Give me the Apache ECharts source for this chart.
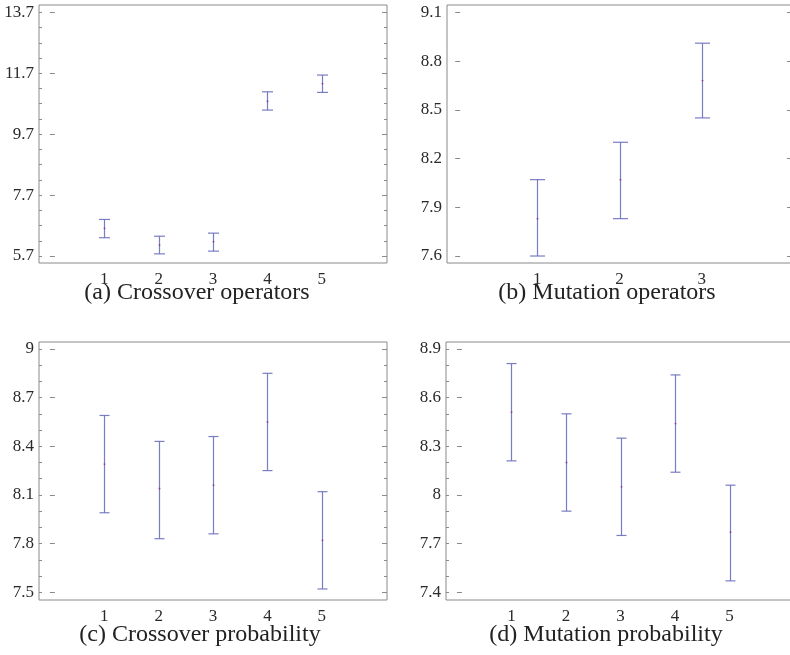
<!DOCTYPE html>
<html>
<head>
<meta charset="utf-8">
<title>Parameter sensitivity</title>
<script src="https://cdn.jsdelivr.net/npm/echarts@6/dist/echarts.min.js"></script>
<style>
  html, body { margin: 0; padding: 0; background: #fff; }
  #chart { width: 790px; height: 655px; }
</style>
</head>
<body>
<div id="chart"></div>
<script>
// (a) Crossover operators
const catsA = [1, 2, 3, 4, 5];
const meanA = [6.61, 6.06, 6.17, 10.78, 11.36];
const lowA  = [6.30, 5.77, 5.86, 10.49, 11.07];
const highA = [6.90, 6.35, 6.45, 11.09, 11.64];
const yTicksA = [5.7, 7.7, 9.7, 11.7, 13.7];

// (b) Mutation operators
const catsB = [1, 2, 3];
const meanB = [7.83, 8.07, 8.68];
const lowB  = [7.60, 7.83, 8.45];
const highB = [8.07, 8.30, 8.91];
const yTicksB = [7.6, 7.9, 8.2, 8.5, 8.8, 9.1];

// (c) Crossover probability
const catsC = [1, 2, 3, 4, 5];
const meanC = [8.29, 8.14, 8.16, 8.55, 7.82];
const lowC  = [7.99, 7.83, 7.86, 8.25, 7.52];
const highC = [8.59, 8.43, 8.46, 8.85, 8.12];
const yTicksC = [7.5, 7.8, 8.1, 8.4, 8.7, 9];

// (d) Mutation probability
const catsD = [1, 2, 3, 4, 5];
const meanD = [8.51, 8.20, 8.05, 8.44, 7.77];
const lowD  = [8.21, 7.90, 7.75, 8.14, 7.47];
const highD = [8.81, 8.50, 8.35, 8.74, 8.06];
const yTicksD = [7.4, 7.7, 8, 8.3, 8.6, 8.9];

const captions = ['(a) Crossover operators', '(b) Mutation operators',
                  '(c) Crossover probability', '(d) Mutation probability'];

const FONT = '"Liberation Serif", "Times New Roman", serif';
const BAR = '#6a6fbd';
const DOT = '#8a3f86';
const FRAME = '#8a8a8a';

// Minor tick positions between (and including) the major ticks
function minorTicks(first, last, step) {
  const out = [];
  const n = Math.round((last - first) / step);
  for (let i = 0; i <= n; i++) out.push(+(first + i * step).toFixed(4));
  return out;
}

const panels = [
  { cats: catsA, mean: meanA, low: lowA, high: highA, ticks: yTicksA,
    minor: minorTicks(5.7, 13.7, 0.5), ymin: 5.47, ymax: 13.94, xmin: -0.2, xmax: 6.2,
    grid: { left: 39, top: 5, width: 348, height: 258 }, cap: 11, caption: [197, 293] },
  { cats: catsB, mean: meanB, low: lowB, high: highB, ticks: yTicksB,
    minor: null, ymin: 7.557, ymax: 9.145, xmin: -0.1, xmax: 4.1,
    grid: { left: 447, top: 5, width: 345, height: 258 }, cap: 15, caption: [607, 293] },
  { cats: catsC, mean: meanC, low: lowC, high: highC, ticks: yTicksC,
    minor: minorTicks(7.5, 9.0, 0.1), ymin: 7.452, ymax: 9.043, xmin: -0.2, xmax: 6.2,
    grid: { left: 39, top: 342, width: 348, height: 258 }, cap: 10, caption: [200, 635] },
  { cats: catsD, mean: meanD, low: lowD, high: highD, ticks: yTicksD,
    minor: minorTicks(7.4, 8.9, 0.1), ymin: 7.352, ymax: 8.943, xmin: -0.2, xmax: 6.2,
    grid: { left: 446, top: 342, width: 349, height: 258 }, cap: 10, caption: [606, 635] }
];

function errorBarRenderer(capWidth) {
  return function (params, api) {
    const x = api.value(0);
    const pLo = api.coord([x, api.value(1)]);
    const pHi = api.coord([x, api.value(2)]);
    const pMid = api.coord([x, api.value(3)]);
    const h = capWidth / 2;
    const cx = Math.round(pMid[0]) + 0.5;
    const style = { stroke: BAR, lineWidth: 1.2, opacity: 0.9 };
    return {
      type: 'group',
      children: [
        { type: 'line', shape: { x1: cx, y1: pHi[1], x2: cx, y2: pLo[1] }, style },
        { type: 'line', shape: { x1: cx - h, y1: pHi[1], x2: cx + h, y2: pHi[1] }, style },
        { type: 'line', shape: { x1: cx - h, y1: pLo[1], x2: cx + h, y2: pLo[1] }, style },
        { type: 'circle', shape: { cx: cx, cy: pMid[1], r: 0.9 }, style: { fill: DOT } }
      ]
    };
  };
}

const grids = [], xAxes = [], yAxes = [], series = [], graphics = [];

panels.forEach((p, gi) => {
  grids.push(Object.assign({ show: true, borderColor: FRAME, borderWidth: 1,
                             backgroundColor: 'transparent',
                             containLabel: false, outerBoundsMode: 'none' }, p.grid));

  xAxes.push({
    type: 'value', gridIndex: gi, min: p.xmin, max: p.xmax,
    axisLine: { show: false }, axisTick: { show: false }, splitLine: { show: false },
    axisLabel: {
      customValues: p.cats, margin: 8, fontFamily: FONT, fontSize: 17, color: '#2a2a2a',
      formatter: v => String(v)
    }
  });

  const yBase = { type: 'value', gridIndex: gi, min: p.ymin, max: p.ymax,
                  axisLine: { show: false }, splitLine: { show: false } };

  // left axis: labels + major ticks
  const mainIndex = yAxes.length;
  yAxes.push(Object.assign({}, yBase, {
    position: 'left',
    axisTick: { show: true, inside: true, length: 5, customValues: p.ticks,
                lineStyle: { color: FRAME } },
    axisLabel: { customValues: p.ticks, margin: 5, fontFamily: FONT, fontSize: 17,
                 color: '#2a2a2a', formatter: v => String(v) }
  }));
  // right axis: mirrored major ticks
  yAxes.push(Object.assign({}, yBase, {
    position: 'right',
    axisTick: { show: true, inside: true, length: 5, customValues: p.ticks,
                lineStyle: { color: FRAME } },
    axisLabel: { show: false }
  }));
  if (p.minor) {
    ['left', 'right'].forEach(side => {
      yAxes.push(Object.assign({}, yBase, {
        position: side,
        axisTick: { show: true, inside: true, length: 3, customValues: p.minor,
                    lineStyle: { color: FRAME } },
        axisLabel: { show: false }
      }));
    });
  }

  series.push({
    type: 'custom', xAxisIndex: gi, yAxisIndex: mainIndex,
    renderItem: errorBarRenderer(p.cap),
    encode: { x: 0, y: [1, 2] },
    data: p.cats.map((c, i) => [c, p.low[i], p.high[i], p.mean[i]]),
    silent: true, animation: false
  });

  graphics.push({
    type: 'text', x: p.caption[0], y: p.caption[1],
    style: { text: captions[gi], fill: '#222', textAlign: 'center',
             textVerticalAlign: 'middle', font: '24px ' + FONT }
  });
});

const chart = echarts.init(document.getElementById('chart'), null, { renderer: 'canvas' });
chart.setOption({
  backgroundColor: '#fff',
  animation: false,
  grid: grids,
  xAxis: xAxes,
  yAxis: yAxes,
  series: series,
  graphic: graphics
});
</script>
</body>
</html>
